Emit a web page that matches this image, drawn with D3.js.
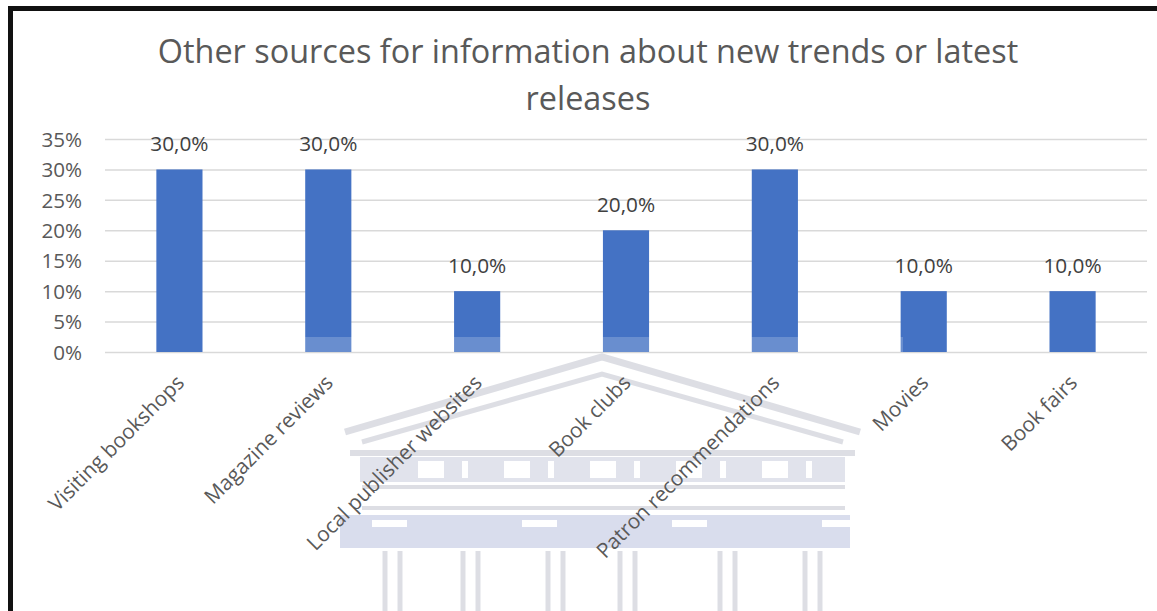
<!DOCTYPE html>
<html>
<head>
<meta charset="utf-8">
<script src="https://cdn.jsdelivr.net/npm/d3@7/dist/d3.min.js"></script>
<style>
  html, body { margin: 0; padding: 0; background: #fff; }
  svg { display: block; }
  text { font-family: "Open Sans", "Noto Sans", sans-serif; }
</style>
</head>
<body>
<svg id="chart" width="1157" height="611"></svg>
<script>
// Survey answers: other sources for new trends / latest releases
const categories = [
  "Visiting bookshops",
  "Magazine reviews",
  "Local publisher websites",
  "Book clubs",
  "Patron recommendations",
  "Movies",
  "Book fairs"
];
const shares = [0.30, 0.30, 0.10, 0.20, 0.30, 0.10, 0.10];
const yTicks = [0, 0.05, 0.10, 0.15, 0.20, 0.25, 0.30, 0.35];
const titleLines = ["Other sources for information about new trends or latest", "releases"];

const svg = d3.select("#chart");
const W = 1157, H = 611;
const margin = { left: 105, right: 10, top: 139, bottom: 259 };

// Frame
svg.append("rect").attr("x", 0).attr("y", 0).attr("width", W).attr("height", H).attr("fill", "#fff");
svg.append("rect")
  .attr("x", 10.5).attr("y", 8.5).attr("width", W + 20).attr("height", H + 20)
  .attr("fill", "none").attr("stroke", "#111").attr("stroke-width", 5);

const x = d3.scaleBand().domain(categories).range([margin.left, W - margin.right]).paddingInner(0.69).paddingOuter(0.345);
const y = d3.scaleLinear().domain([0, 0.35]).range([H - margin.bottom, margin.top]);

// Grid lines
const grid = svg.append("g").attr("transform", `translate(${margin.left},0)`)
  .call(d3.axisLeft(y).tickValues(yTicks).tickSize(-(W - margin.right - margin.left)).tickFormat(""));
grid.select(".domain").remove();
grid.selectAll("line").attr("stroke", "#d9d9d9").attr("stroke-width", 1.5);

// Bars
svg.append("g").selectAll("rect").data(categories).join("rect")
  .attr("x", d => x(d))
  .attr("y", (d, i) => y(shares[i]))
  .attr("width", x.bandwidth())
  .attr("height", (d, i) => y(0) - y(shares[i]))
  .attr("fill", "#4472c4");

// Faint institutional emblem behind the lower part of the chart
const emb = svg.append("g").attr("fill", "none").attr("stroke", "#d2d4dc").attr("opacity", 0.75);
svg.append("rect").attr("x", 300).attr("y", 337).attr("width", 603).attr("height", 15)
  .attr("fill", "#fff").attr("opacity", 0.2);
// roof
emb.append("path").attr("d", "M345,432 L602,357 L860,432").attr("stroke-width", 7);
emb.append("path").attr("d", "M362,442 L602,374 L843,442").attr("stroke-width", 5);
emb.append("line").attr("x1", 350).attr("x2", 855).attr("y1", 453).attr("y2", 453).attr("stroke-width", 6);
// frieze
emb.append("rect").attr("x", 360).attr("y", 457).attr("width", 485).attr("height", 25)
  .attr("fill", "#d7dae6").attr("stroke", "none");
[0, 1, 2, 3, 4, 5].forEach(i => {
  emb.append("rect").attr("x", 418 + i * 86).attr("y", 461).attr("width", 26).attr("height", 17)
    .attr("fill", "#fff").attr("stroke", "none");
  emb.append("rect").attr("x", 462 + i * 86).attr("y", 461).attr("width", 6).attr("height", 17)
    .attr("fill", "#fff").attr("stroke", "none");
});
emb.append("line").attr("x1", 362).attr("x2", 845).attr("y1", 487).attr("y2", 487).attr("stroke-width", 4);
emb.append("line").attr("x1", 362).attr("x2", 845).attr("y1", 508).attr("y2", 508).attr("stroke-width", 4);
// capitals band
emb.append("rect").attr("x", 340).attr("y", 515).attr("width", 510).attr("height", 33)
  .attr("fill", "#cdd2e8").attr("stroke", "none");
[0, 1, 2, 3].forEach(i => {
  emb.append("rect").attr("x", 372 + i * 150).attr("y", 520).attr("width", 35).attr("height", 7)
    .attr("fill", "#fff").attr("stroke", "none");
});
// columns
[385, 400, 463, 478, 548, 563, 620, 635, 720, 735, 805, 820].forEach(cx => {
  emb.append("line").attr("x1", cx).attr("x2", cx).attr("y1", 551).attr("y2", 611).attr("stroke-width", 5);
});

// Title
svg.append("text")
  .attr("x", 588).attr("y", 63)
  .attr("text-anchor", "middle").attr("fill", "#595959")
  .style("font-size", "32.4px")
  .selectAll("tspan").data(titleLines).join("tspan")
  .attr("x", 588).attr("dy", (d, i) => i === 0 ? 0 : 47)
  .text(d => d);

// Y tick labels
const yAxis = svg.append("g").attr("transform", `translate(${margin.left - 23},0)`)
  .call(d3.axisLeft(y).tickValues(yTicks).tickSize(0).tickPadding(0).tickFormat(d3.format(".0%")));
yAxis.select(".domain").remove();
yAxis.selectAll("text").attr("fill", "#595959").style("font-size", "20.6px")
  .style("font-family", "'Open Sans', sans-serif").attr("dy", "0.35em");

// Value labels
const fmt = v => d3.format(".1%")(v).replace(".", ",");
svg.append("g").selectAll("text").data(categories).join("text")
  .attr("x", d => x(d) + x.bandwidth() / 2)
  .attr("y", (d, i) => y(shares[i]) - 18)
  .attr("text-anchor", "middle").attr("fill", "#404040")
  .style("font-size", "20.8px")
  .text((d, i) => fmt(shares[i]));

// Category labels (rotated)
const xAxis = svg.append("g").attr("transform", `translate(0,${y(0)})`)
  .call(d3.axisBottom(x).tickSize(0).tickPadding(0));
xAxis.select(".domain").remove();
xAxis.selectAll("text")
  .attr("fill", "#595959").style("font-size", "20.8px")
  .style("font-family", "'Open Sans', sans-serif")
  .attr("text-anchor", "end")
  .attr("dy", null)
  .attr("transform", "translate(6,32) rotate(-45)");
</script>
</body>
</html>
